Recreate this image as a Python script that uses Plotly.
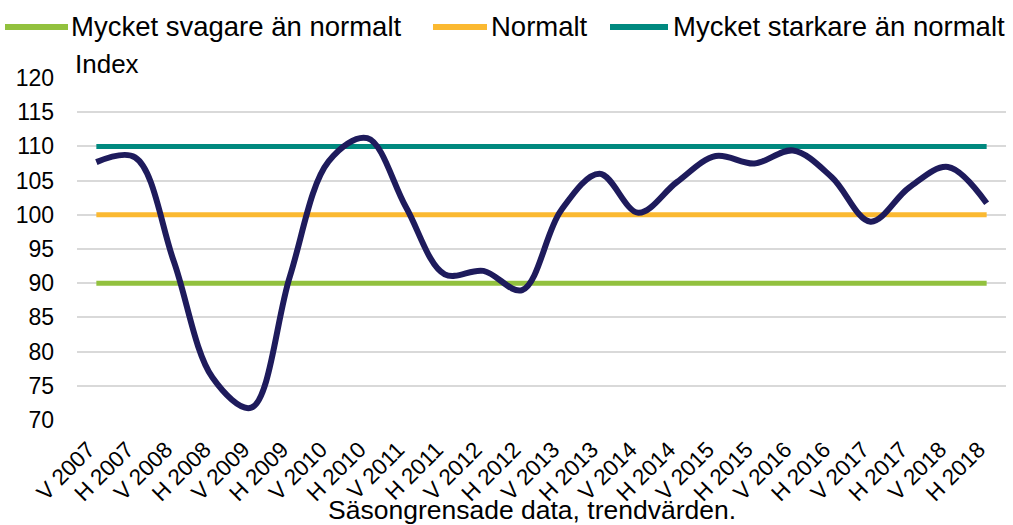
import plotly.graph_objects as go

categories = ["V 2007", "H 2007", "V 2008", "H 2008", "V 2009", "H 2009", "V 2010", "H 2010",
              "V 2011", "H 2011", "V 2012", "H 2012", "V 2013", "H 2013", "V 2014", "H 2014",
              "V 2015", "H 2015", "V 2016", "H 2016", "V 2017", "H 2017", "V 2018", "H 2018"]
index_values = [107.7, 108.4, 93.2, 76.2, 71.8, 91.0, 107.8, 111.2,
                101.1, 91.3, 91.8, 89.0, 100.6, 106.0, 100.3, 104.8,
                108.6, 107.5, 109.4, 105.5, 99.0, 104.0, 107.0, 101.7]
weak_level = [90] * len(categories)
normal_level = [100] * len(categories)
strong_level = [110] * len(categories)

series_names = ["Mycket svagare än normalt", "Normalt", "Mycket starkare än normalt"]
series_colors = ["#92C13E", "#FBB931", "#00897F"]

font_family = "Liberation Sans, Arial, sans-serif"

W, H = 1013, 525
L, R, T, B = 77, 7, 78, 105
PW, PH = W - L - R, H - T - B


def px_x(px):
    return (px - L) / PW


def px_y(py):
    return (H - B - py) / PH


fig = go.Figure()
for vals, name, col in zip([weak_level, normal_level, strong_level], series_names, series_colors):
    fig.add_trace(go.Scatter(x=categories, y=vals, mode="lines", name=name, showlegend=False,
                             line=dict(color=col, width=5)))
fig.add_trace(go.Scatter(x=categories, y=index_values, mode="lines", name="Index", showlegend=False,
                         line=dict(color="#1E1B5C", width=6, shape="spline", smoothing=1.0)))

# manual legend (one row, as in the reference)
legend_keys = [(5, 68, 69), (433, 487, 489), (610, 668, 671)]
shapes = []
annotations = []
for (x0, x1, xt), name, col in zip(legend_keys, series_names, series_colors):
    shapes.append(dict(type="line", xref="paper", yref="paper", x0=px_x(x0), x1=px_x(x1),
                       y0=px_y(27), y1=px_y(27), line=dict(color=col, width=6)))
    annotations.append(dict(text=name, xref="paper", yref="paper", x=px_x(xt), y=px_y(27),
                            xanchor="left", yanchor="middle", showarrow=False,
                            font=dict(size=27.5)))

annotations.append(dict(text="Index", xref="paper", yref="paper", x=px_x(73), y=px_y(64),
                        xanchor="left", yanchor="middle", showarrow=False, font=dict(size=26)))
annotations.append(dict(text="Säsongrensade data, trendvärden.", xref="paper", yref="paper",
                        x=px_x(532), y=px_y(510), xanchor="center", yanchor="middle",
                        showarrow=False, font=dict(size=26.5)))

fig.update_layout(
    width=W, height=H,
    margin=dict(l=L, r=R, t=T, b=B),
    paper_bgcolor="white", plot_bgcolor="white",
    font=dict(family=font_family, color="black", size=22),
    showlegend=False,
    xaxis=dict(type="category", range=[-0.5, 23.5], tickangle=-45, showgrid=False,
               showline=False, ticks="", tickfont=dict(size=22.5), automargin=False,
               ticklabelstandoff=11, ticklabelshift=-8),
    yaxis=dict(range=[70, 120], dtick=5, tick0=70, showgrid=True, gridcolor="#D9D9D9",
               gridwidth=1.5, zeroline=False, showline=False, ticks="", tickfont=dict(size=23),
               ticklabelstandoff=22, automargin=False),
    shapes=shapes,
    annotations=annotations,
)

fig.write_html("out.html", config={"displayModeBar": False},
               post_script="document.body.style.margin='0';")
